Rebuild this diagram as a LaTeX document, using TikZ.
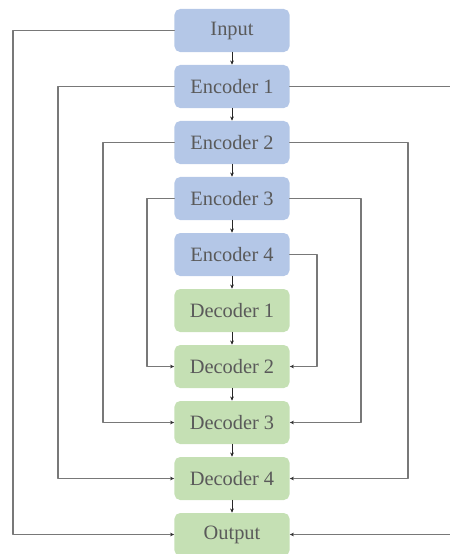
\documentclass[tikz,border=0pt]{standalone}
\usepackage{fontspec}
\setmainfont{Liberation Serif}
\usetikzlibrary{arrows.meta}
\definecolor{encblue}{RGB}{180,199,231}
\definecolor{decgreen}{RGB}{197,224,180}
\definecolor{txtgray}{RGB}{90,90,90}
\definecolor{linegray}{RGB}{120,120,120}
\tikzset{
  blockbox/.style={rounded corners=4pt,minimum width=2.875cm,minimum height=1.075cm,
    inner sep=0pt,text=txtgray,font=\fontsize{14.5}{16}\selectfont},
  encbox/.style={blockbox,fill=encblue},
  decbox/.style={blockbox,fill=decgreen},
  skip/.style={-{Stealth[length=3pt,width=2.6pt,color=black!80]},line width=0.9pt,color=linegray},
  flow/.style={-{Stealth[length=3pt,width=2.6pt]},line width=0.7pt,color=black!85}
}

\begin{document}
\begin{tikzpicture}[line cap=round,line join=round,x=0.025cm,y=-0.025cm]
\useasboundingbox (0,0) rectangle (449,554);
%\draw[help lines] (0,0) grid[step=50] (449,554);
\node[encbox] (inp) at (232,30.5) {Input};
\node[encbox] (enc1) at (232,86.5) {Encoder 1};
\node[encbox] (enc2) at (232,142.5) {Encoder 2};
\node[encbox] (enc3) at (232,198.5) {Encoder 3};
\node[encbox] (enc4) at (232,254.5) {Encoder 4};
\node[decbox] (dec1) at (232,310.5) {Decoder 1};
\node[decbox] (dec2) at (232,366.5) {Decoder 2};
\node[decbox] (dec3) at (232,422.5) {Decoder 3};
\node[decbox] (dec4) at (232,478.5) {Decoder 4};
\node[decbox] (out) at (232,534.5) {Output};
\draw[flow] (inp) -- (enc1);
\draw[flow] (enc1) -- (enc2);
\draw[flow] (enc2) -- (enc3);
\draw[flow] (enc3) -- (enc4);
\draw[flow] (enc4) -- (dec1);
\draw[flow] (dec1) -- (dec2);
\draw[flow] (dec2) -- (dec3);
\draw[flow] (dec3) -- (dec4);
\draw[flow] (dec4) -- (out);
% skip lines, left side
\coordinate (la) at (13,0);
\coordinate (lb) at (58,0);
\coordinate (lc) at (103,0);
\coordinate (ld) at (147,0);
\draw[skip] (inp.west) -- (inp.west -| la) |- (out.west);
\draw[skip] (enc1.west) -- (enc1.west -| lb) |- (dec4.west);
\draw[skip] (enc2.west) -- (enc2.west -| lc) |- (dec3.west);
\draw[skip] (enc3.west) -- (enc3.west -| ld) |- (dec2.west);
% skip lines, right side
\coordinate (ra) at (452,0);
\coordinate (rb) at (408,0);
\coordinate (rc) at (361,0);
\coordinate (rd) at (317,0);
\draw[skip] (enc1.east) -- (enc1.east -| ra) |- (out.east);
\draw[skip] (enc2.east) -- (enc2.east -| rb) |- (dec4.east);
\draw[skip] (enc3.east) -- (enc3.east -| rc) |- (dec3.east);
\draw[skip] (enc4.east) -- (enc4.east -| rd) |- (dec2.east);
\end{tikzpicture}
\end{document}
